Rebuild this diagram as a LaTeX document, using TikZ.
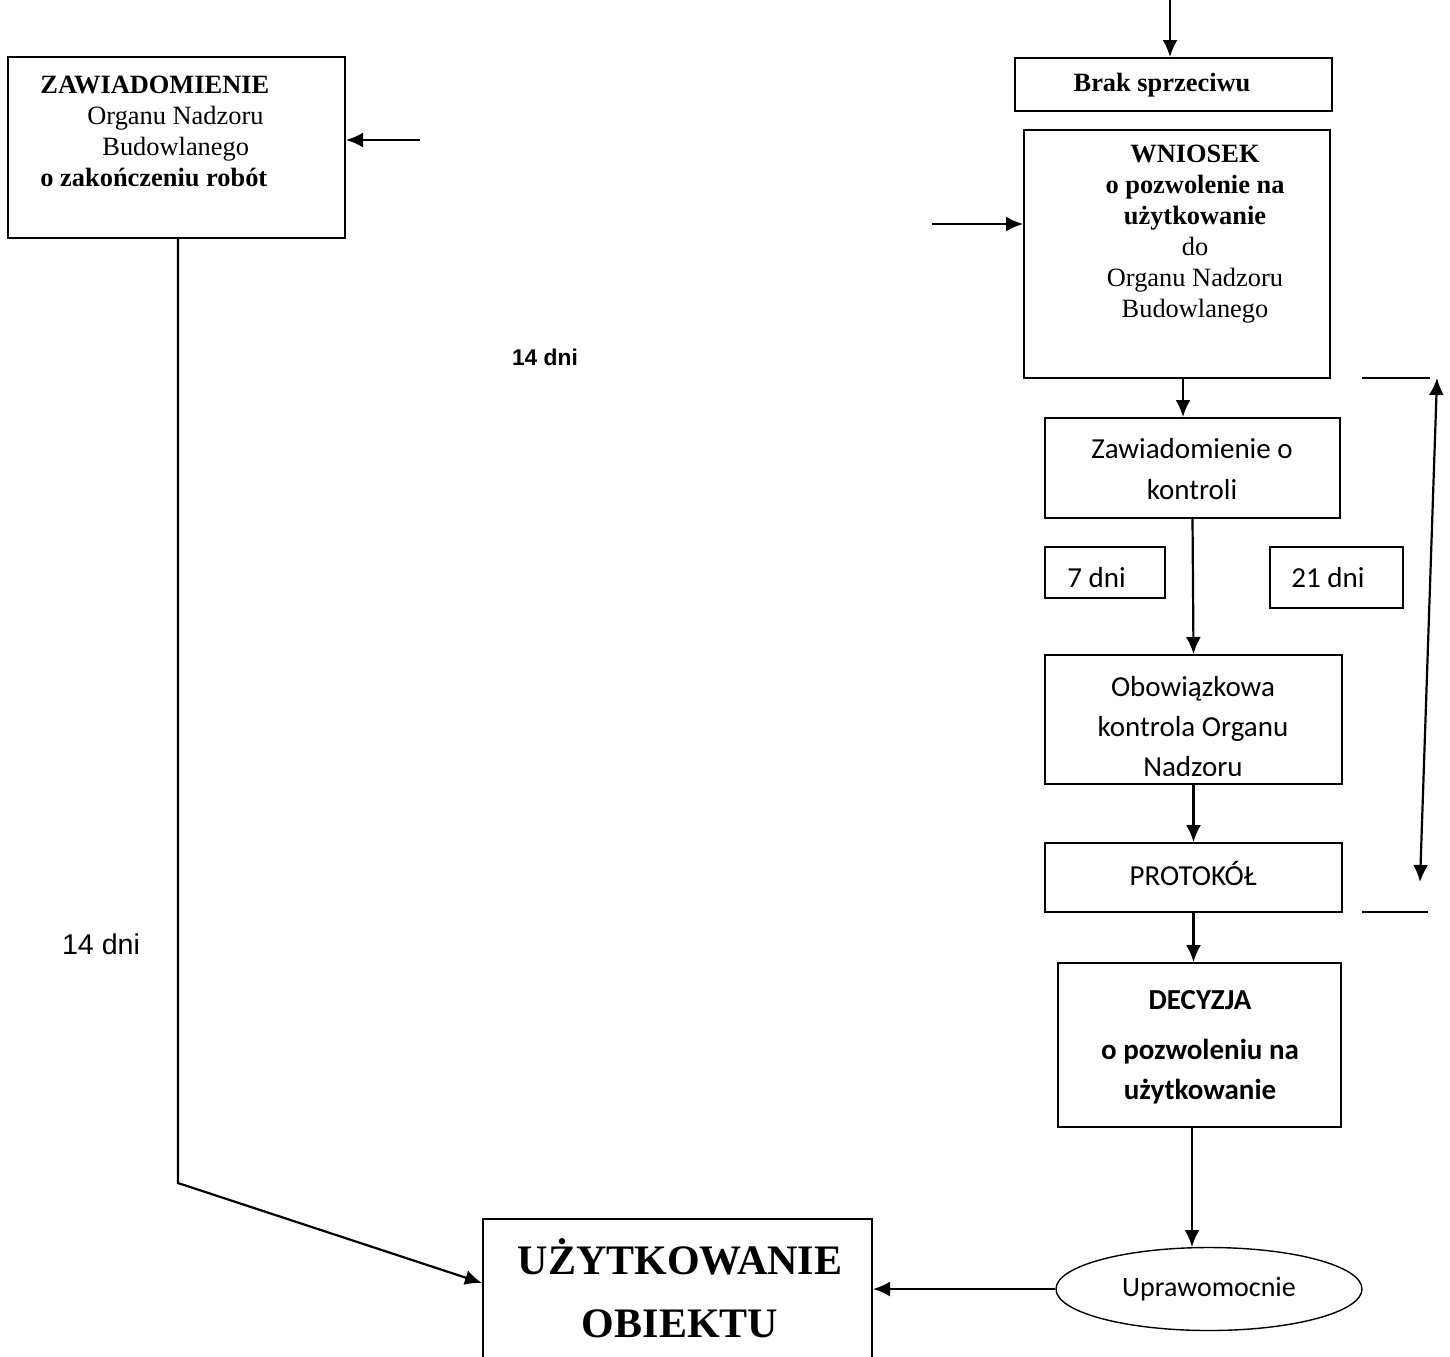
\documentclass[tikz,border=0pt]{standalone}
\usepackage{fontspec}
\setmainfont{Liberation Serif}
\newfontfamily\calibri{Carlito}
\newfontfamily\arial{Liberation Sans}
\usetikzlibrary{arrows.meta,shapes.geometric}

\tikzset{
  blok/.style={draw, line width=1pt, inner sep=0pt},
  tekst/.style={align=center, inner sep=0pt, font=\fontsize{13.2}{15.5}\selectfont},
  ctekst/.style={align=center, inner sep=0pt, font=\calibri\fontsize{14.5}{20.5}\selectfont},
  strz/.style={->, line width=1.1pt}
}

\begin{document}
\begin{tikzpicture}[x=0.5pt, y=-0.5pt, >={Latex[length=8.5pt,width=7.5pt]}]
\useasboundingbox (0,0) rectangle (1450,1356);
\clip (0,0) rectangle (1450,1356);

% lewa strona
\node[blok, minimum width=168.5pt, minimum height=90.5pt] (zaw) at (176.5,147.5) {};
\node[tekst, align=left, anchor=west] (zawtxt) at (40,131) {\textbf{ZAWIADOMIENIE}\\\hspace*{23.5pt}Organu Nadzoru\\\hspace*{31pt}Budowlanego\\\textbf{o zakończeniu robót}};
\coordinate (zawin) at (420,140);
\draw[strz] (zawin) -- (zaw.east |- zawin);

\node[font=\arial\bfseries\fontsize{11.4}{13}\selectfont, inner sep=0pt] (dni14a) at (545,357) {14 dni};
\node[font=\arial\fontsize{14.3}{16}\selectfont, inner sep=0pt] (dni14b) at (101,944) {14 dni};

% prawa strona
\coordinate (gora) at (1170,0);
\node[blok, minimum width=158.5pt, minimum height=26.5pt] (brak) at (1173.5,84.5) {};
\node[tekst, font=\bfseries\fontsize{13.2}{15.5}\selectfont] (braktxt) at (1162,85) {Brak sprzeciwu};
\draw[strz] (gora) -- (gora |- brak.north);

\node[blok, minimum width=153pt, minimum height=124pt] (wniosek) at (1177,254) {};
\node[tekst] (wniosektxt) at (1195,234) {\textbf{WNIOSEK}\\\textbf{o pozwolenie na}\\\textbf{użytkowanie}\\do\\Organu Nadzoru\\Budowlanego};
\coordinate (wniosekin) at (932,224);
\draw[strz] (wniosekin) -- (wniosek.west |- wniosekin);

\node[blok, minimum width=147.5pt, minimum height=50pt] (kontr) at (1192.5,468) {};
\node[ctekst] (kontrtxt) at (1192,469) {Zawiadomienie o\\kontroli};
\draw[strz] ([xshift=-4.75pt]kontr.north |- wniosek.south) -- ([xshift=-4.75pt]kontr.north);

\node[blok, minimum width=60pt, minimum height=25.5pt] (siedem) at (1105,572.5) {};
\node[ctekst, anchor=west] at (1067,578) {7 dni};
\node[blok, minimum width=66.5pt, minimum height=30.5pt] (dwadz) at (1336.5,577.5) {};
\node[ctekst, anchor=west] at (1291,578) {21 dni};

\node[blok, minimum width=148.5pt, minimum height=64.5pt] (obow) at (1193.5,719.5) {};
\begin{scope}
\clip (1045,655) rectangle (1342,775);
\node[ctekst, font=\calibri\fontsize{14.5}{20}\selectfont] (obowtxt) at (1193,727) {Obowiązkowa\\kontrola Organu\\Nadzoru};
\end{scope}
\draw[strz] (kontr.south) -- (obow.north);

\node[blok, minimum width=148.5pt, minimum height=34.5pt] (protokol) at (1193.5,877.5) {};
\node[ctekst] (protokoltxt) at (1193,873) {PROTOKÓŁ};
\draw[strz] (obow.south) -- (protokol.north);

\node[blok, minimum width=141.5pt, minimum height=82pt] (decyzja) at (1199.5,1045) {};
\node[ctekst, font=\calibri\bfseries\fontsize{14.5}{20}\selectfont] (decyzjatxt) at (1200,1047) {DECYZJA\\[5pt]o pozwoleniu na\\użytkowanie};
\draw[strz] (protokol.south) -- (protokol.south |- decyzja.north);

\node[draw, line width=0.7pt, inner sep=0pt, ellipse, minimum width=153pt, minimum height=41.5pt] (upraw) at (1209,1289) {};
\node[ctekst, font=\calibri\fontsize{14}{16}\selectfont] (uprawtxt) at (1209,1289) {Uprawomocnie};
\draw[strz] (decyzja.south -| 1192,0) -- (1192,1247);

% dol
\node[blok, minimum width=194.5pt, minimum height=90.5pt] (uzyt) at (677.5,1309.5) {};
\node[tekst, font=\bfseries\fontsize{21}{31.5}\selectfont] (uzyttxt) at (680,1288) {UŻYTKOWANIE\\OBIEKTU};
\draw[strz] (upraw.west) -- (uzyt.east |- upraw.west);

\coordinate (zalom) at (178,1183);
\draw[strz] (zaw.south -| zalom) -- (zalom) -- (uzyt.west |- 0,1283);

% zakres 21 dni
\coordinate (kreskaA) at (1362,378);
\coordinate (kreskaB) at (1362,912);
\draw[line width=1pt] (kreskaA) -- ++(68,0);
\draw[line width=1pt] (kreskaB) -- ++(66,0);
\draw[strz, <->] (1420,882) -- (1437,378);
\end{tikzpicture}
\end{document}
